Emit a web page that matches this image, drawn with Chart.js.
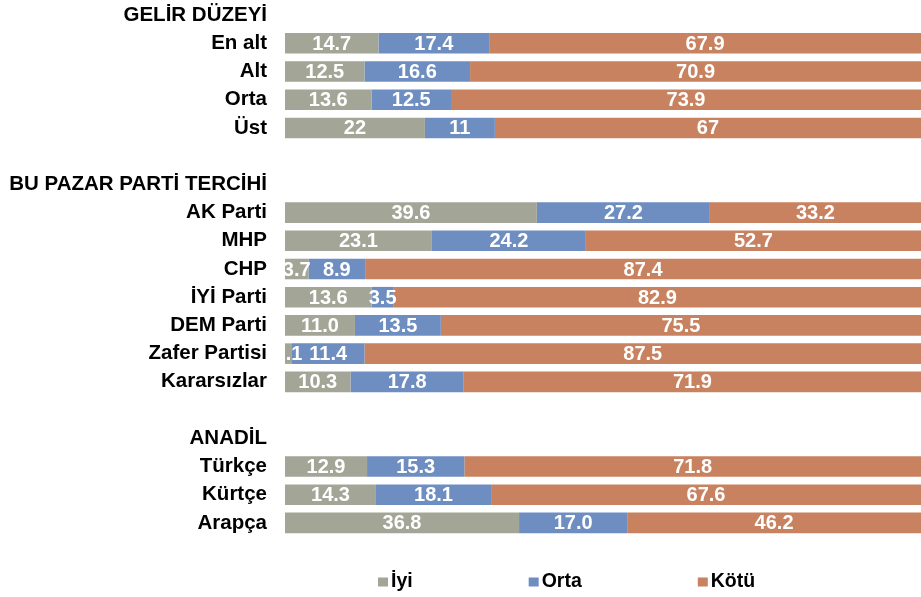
<!DOCTYPE html>
<html>
<head>
<meta charset="utf-8">
<script src="https://cdn.jsdelivr.net/npm/chart.js@4/dist/chart.umd.min.js"></script>
<style>
  html, body { margin: 0; padding: 0; background: #ffffff; }
  #wrap { position: relative; width: 921px; height: 597px; }
</style>
</head>
<body>
<div id="wrap"><canvas id="c"></canvas></div>
<script>
const categories = [
  "GELİR DÜZEYİ", "En alt", "Alt", "Orta", "Üst",
  "",
  "BU PAZAR PARTİ TERCİHİ", "AK Parti", "MHP", "CHP", "İYİ Parti", "DEM Parti", "Zafer Partisi", "Kararsızlar",
  " ",
  "ANADİL", "Türkçe", "Kürtçe", "Arapça"
];
const iyi   = [null, 14.7, 12.5, 13.6, 22, null, null, 39.6, 23.1, 3.7, 13.6, 11.0, 1.1, 10.3, null, null, 12.9, 14.3, 36.8];
const orta  = [null, 17.4, 16.6, 12.5, 11, null, null, 27.2, 24.2, 8.9, 3.5, 13.5, 11.4, 17.8, null, null, 15.3, 18.1, 17.0];
const kotu  = [null, 67.9, 70.9, 73.9, 67, null, null, 33.2, 52.7, 87.4, 82.9, 75.5, 87.5, 71.9, null, null, 71.8, 67.6, 46.2];
const labelDecimals = [null, 1, 1, 1, 0, null, null, 1, 1, 1, 1, 1, 1, 1, null, null, 1, 1, 1];
const seriesNames = ["İyi", "Orta", "Kötü"];
const seriesColors = ["#A3A596", "#6E8EC2", "#C8825F"];

const FONT = "'Liberation Sans', Arial, sans-serif";

const barLabelPlugin = {
  id: 'barLabels',
  afterDatasetsDraw(chart) {
    const ctx = chart.ctx;
    const area = chart.chartArea;
    ctx.save();
    ctx.beginPath();
    ctx.rect(area.left, area.top, area.right - area.left, area.bottom - area.top);
    ctx.clip();
    ctx.font = "bold 20px " + FONT;
    ctx.fillStyle = "#ffffff";
    ctx.textAlign = "center";
    ctx.textBaseline = "middle";
    chart.data.datasets.forEach((ds, di) => {
      const meta = chart.getDatasetMeta(di);
      meta.data.forEach((bar, i) => {
        const v = ds.data[i];
        if (v === null || v === undefined) return;
        const txt = v.toFixed(labelDecimals[i]);
        const cx = (bar.x + bar.base) / 2;
        ctx.fillText(txt, cx, bar.y + 1);
      });
    });
    ctx.restore();
  }
};

const legendPlugin = {
  id: 'customLegend',
  afterDraw(chart) {
    const ctx = chart.ctx;
    ctx.save();
    ctx.font = "bold 19.5px " + FONT;
    ctx.textBaseline = "middle";
    ctx.textAlign = "left";
    const y = chart.chartArea.bottom + 45;
    let x = 378;
    const gap = 116;
    chart.data.datasets.forEach((ds) => {
      ctx.fillStyle = ds.backgroundColor;
      ctx.fillRect(x, y - 4.5, 10, 9);
      ctx.fillStyle = "#000000";
      ctx.fillText(ds.label, x + 13, y);
      x += 13 + ctx.measureText(ds.label).width + gap;
    });
    ctx.restore();
  }
};

new Chart(document.getElementById('c'), {
  type: 'bar',
  data: {
    labels: categories,
    datasets: [
      { label: seriesNames[0], data: iyi,  backgroundColor: seriesColors[0] },
      { label: seriesNames[1], data: orta, backgroundColor: seriesColors[1] },
      { label: seriesNames[2], data: kotu, backgroundColor: seriesColors[2] }
    ]
  },
  options: {
    indexAxis: 'y',
    responsive: true,
    maintainAspectRatio: false,
    animation: false,
    categoryPercentage: 1.0,
    barPercentage: 0.73,
    borderWidth: 0,
    layout: { padding: { top: 1, bottom: 60, left: 0, right: 0 } },
    plugins: {
      legend: { display: false },
      tooltip: { enabled: false }
    },
    scales: {
      x: {
        stacked: true,
        display: false,
        min: 0,
        max: 100
      },
      y: {
        stacked: true,
        grid: { display: false, drawTicks: false },
        border: { display: false },
        ticks: {
          autoSkip: false,
          color: "#000000",
          padding: 18,
          font: { family: FONT, size: 20.5, weight: 'bold' }
        },
        afterFit(scale) {
          scale.width = 285;
          scale.paddingTop = 0;
          scale.paddingBottom = 0;
        }
      }
    }
  },
  plugins: [barLabelPlugin, legendPlugin]
});
</script>
</body>
</html>
